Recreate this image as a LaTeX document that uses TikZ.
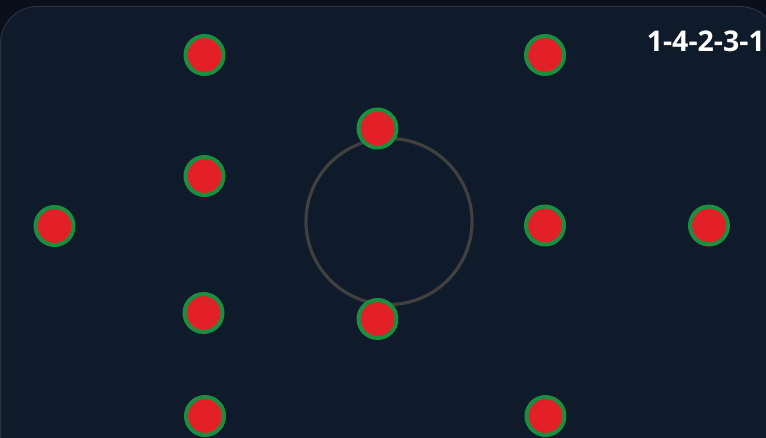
\documentclass[tikz,border=0pt]{standalone}
\usepackage{fontspec}
\setmainfont{Open Sans}
\definecolor{outerbg}{HTML}{0A0F1C}
\definecolor{panelbg}{HTML}{0F1A2B}
\definecolor{panelline}{HTML}{2C313C}
\definecolor{dotred}{HTML}{E32028}
\definecolor{dotgreen}{HTML}{1A8F3F}
\definecolor{ringgray}{HTML}{404040}
\tikzset{
  playerdot/.style={circle, minimum size=38pt, inner sep=0pt, line width=4pt, draw=dotgreen, fill=dotred},
  ringnode/.style={circle, minimum size=166pt, inner sep=0pt, line width=3.2pt, draw=ringgray},
  titletext/.style={text=white, font=\fontsize{28.5}{31}\selectfont\bfseries, inner sep=0pt}
}
\begin{document}
\begin{tikzpicture}[x=1pt,y=-1pt]
\useasboundingbox (0,0) rectangle (766,438);
\fill[outerbg] (0,0) rectangle (766,438);
\begin{scope}
\clip (0,0) rectangle (766,438);
\draw[fill=panelbg, draw=panelline, line width=1pt, rounded corners=37pt] (0.5,6.5) rectangle (777,470);
\end{scope}
\node[ringnode] (ring) at (389,221.5) {};
\node[playerdot] (p1) at (204.5,55) {};
\node[playerdot] (p2) at (545,55) {};
\node[playerdot] (p3) at (377.5,128.5) {};
\node[playerdot] (p4) at (204.5,176) {};
\node[playerdot] (p5) at (54.5,226) {};
\node[playerdot] (p6) at (545,225.5) {};
\node[playerdot] (p7) at (709,225.5) {};
\node[playerdot] (p8) at (203.5,313) {};
\node[playerdot] (p9) at (377.5,319) {};
\node[playerdot] (p10) at (205,416) {};
\node[playerdot] (p11) at (545.5,416) {};
\node[titletext, anchor=base east] (title) at (765,51.5) {1-4-2-3-1};
\end{tikzpicture}
\end{document}
